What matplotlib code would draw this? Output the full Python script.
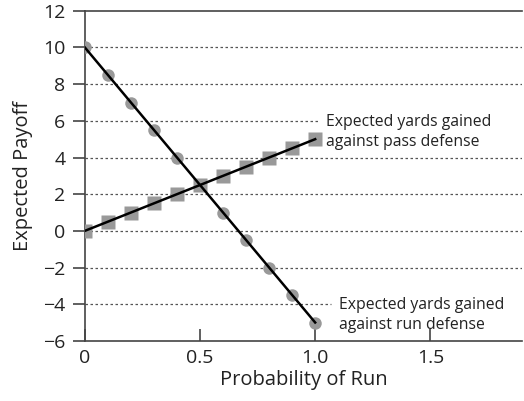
import numpy as np
import matplotlib
matplotlib.use("Agg")
import matplotlib.pyplot as plt

plt.rcParams['font.family'] = ['Open Sans', 'DejaVu Sans']

# probability of run
prob_run = [0.0, 0.1, 0.2, 0.3, 0.4, 0.5, 0.6, 0.7, 0.8, 0.9, 1.0]
# expected yards vs run defense (circles) and pass defense (squares)
vs_run_def = [10, 8.5, 7, 5.5, 4, 2.5, 1, -0.5, -2, -3.5, -5]
vs_pass_def = [0, 0.5, 1, 1.5, 2, 2.5, 3, 3.5, 4, 4.5, 5]

x_ticks = [0, 0.5, 1.0, 1.5]
x_ticklabels = ["0", "0.5", "1.0", "1.5"]
y_ticks = [-6, -4, -2, 0, 2, 4, 6, 8, 10, 12]
y_ticklabels = ["\u22126", "\u22124", "\u22122", "0", "2", "4", "6", "8", "10", "12"]

fig = plt.figure(figsize=(5.24, 4.01), dpi=100)
ax = fig.add_axes([0.162, 0.150, 0.835, 0.823])

# dotted grid lines, the ones under the labels stop short of the text
grid_stop = {6: 1.02 / 1.9, -4: 1.07 / 1.9}
for yv in y_ticks[1:-1]:
    ax.axhline(yv, xmax=grid_stop.get(yv, 1), color="#555555", lw=0.9,
               ls=(0, (2, 2)), zorder=1)

ax.plot(prob_run, vs_run_def, 'o', color="#999999", ms=9, mec="none", zorder=3)
ax.plot(prob_run, vs_pass_def, 's', color="#999999", ms=9.5, mec="none", zorder=3)
ax.plot([prob_run[0], prob_run[-1]], [vs_run_def[0], vs_run_def[-1]],
        color="black", lw=1.8, zorder=4)
ax.plot([prob_run[0], prob_run[-1]], [vs_pass_def[0], vs_pass_def[-1]],
        color="black", lw=1.8, zorder=4)

ax.text(1.045, 5.4, "Expected yards gained\nagainst pass defense", fontsize=11.3,
        va="center", ha="left", color="#222222", linespacing=1.35, zorder=2)
ax.text(1.105, -4.6, "Expected yards gained\nagainst run defense", fontsize=11.3,
        va="center", ha="left", color="#222222", linespacing=1.35, zorder=2)

ax.set_xlim(0, 1.9)
ax.set_ylim(-6, 12)
ax.set_xticks(x_ticks)
ax.set_xticklabels(x_ticklabels)
ax.set_yticks(y_ticks)
ax.set_yticklabels(y_ticklabels)
ax.tick_params(axis="x", direction="in", length=9, width=1.2, color="#444444",
               labelsize=14, labelcolor="#222222", pad=6)
ax.tick_params(axis="y", direction="out", length=9, width=1.2, color="#444444",
               labelsize=14, labelcolor="#222222", pad=5)

for side in ["left", "top", "bottom"]:
    ax.spines[side].set_color("#444444")
    ax.spines[side].set_linewidth(1.2)
ax.spines["right"].set_visible(False)

ax.set_xlabel("Probability of Run", fontsize=14.5, color="#222222", labelpad=2)
ax.set_ylabel("Expected Payoff", fontsize=14.5, color="#222222", labelpad=7)

fig.savefig("out.png", dpi=100)
